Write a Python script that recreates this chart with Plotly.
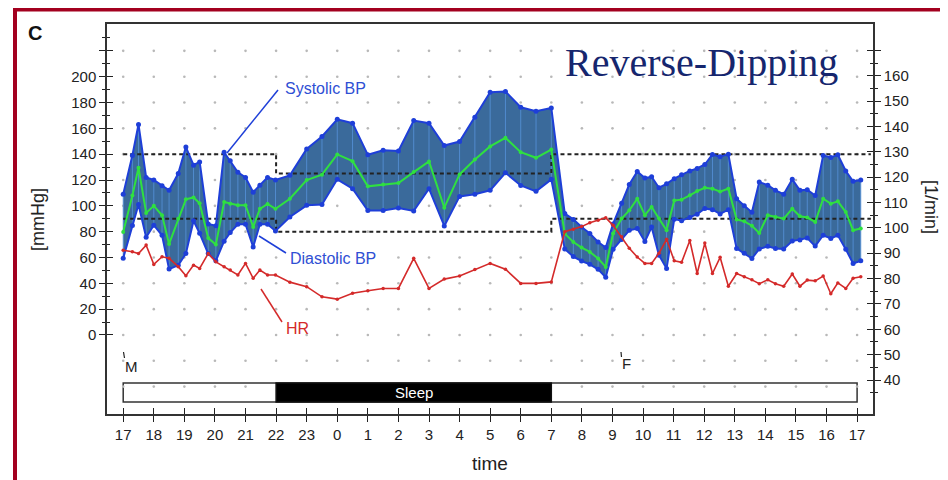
import plotly.graph_objects as go

# ---------------- data (hours after 17:00) ----------------
hours = [0, 0.3, 0.5, 0.75, 1.0, 1.27, 1.5, 1.8, 2.05, 2.3, 2.5, 2.78, 3.03, 3.3, 3.5, 3.75, 4.0,
         4.25, 4.47, 4.72, 4.98,
         5.45, 6.0, 6.5, 7.0, 7.5, 8.0, 8.5, 9.0, 9.5, 10.0, 10.5, 11.0, 11.5, 12.0, 12.5, 13.0,
         13.5, 14.0,
         14.44, 14.72, 14.99, 15.26, 15.53, 15.78, 16.02, 16.30, 16.55, 16.81, 17.06, 17.28, 17.52,
         17.77, 18.02, 18.26, 18.53, 18.77, 19.02, 19.27, 19.52, 19.79, 20.06, 20.31, 20.56, 20.80,
         21.08, 21.33, 21.60, 21.88, 22.13, 22.37, 22.63, 22.89, 23.14, 23.37, 23.63, 23.87, 24.12]

systolic = [109, 139, 163, 122, 120, 115.5, 112, 125, 145.5, 131.5, 134, 86, 84.5, 141.5, 135, 126,
            122, 110.5, 116, 122, 120,
            123.6, 144, 153.7, 167, 164, 139.5, 143, 142.5, 166, 164, 146.7, 149.8, 168.6, 188,
            188.6, 176.3, 173.2, 175.8,
            94, 89.5, 83.6, 78.5, 72, 67.7, 86, 102, 116.5, 126.6, 121.5, 122.5, 114, 117, 121, 124,
            127, 129, 132, 139.8, 138, 140, 105.5, 100, 95, 118.4, 116, 112, 109, 120.5, 112, 112.5,
            108, 139, 137.5, 139.5, 127, 119, 120]

diastolic = [59.5, 84.7, 101, 75.7, 85, 77.2, 51, 54, 63, 88.4, 78.7, 63, 57.5, 72.6, 79.3, 85.7,
             85.7, 68.2, 85.7, 85.7, 80.5,
             91.4, 100.4, 101, 120.5, 113.3, 96.3, 96.3, 98.3, 96, 113.3, 84.4, 107.3, 109, 112,
             125.6, 115.8, 111.2, 120.5,
             66.5, 60.7, 57.3, 54.7, 50.8, 44.7, 66.3, 74, 81, 82.4, 72.3, 83.6, 61.8, 51.5, 89.7,
             88.5, 90.9, 93.5, 98, 97, 93.7, 97, 67, 63.3, 59.2, 66.6, 68.7, 67, 66.5, 72.7, 73.6,
             75, 68.8, 77.2, 74.7, 77.2, 66.3, 55.4, 57.4]

mean_bp = [79.8, 108, 129.5, 94.5, 100, 92.7, 70.5, 90, 105, 106.5, 102, 75, 70, 103, 101.7, 100.5,
           100.5, 83.6, 97.7, 101.5, 97.7,
           105.5, 120, 124.1, 139.8, 134.6, 115.1, 116.6, 117.6, 126.1, 134.4, 98.6, 124.3, 135.9,
           146, 152.7, 141.5, 137.2, 143.6,
           78.5, 72, 67.7, 64.3, 59.2, 52.7, 78.5, 90.1, 96.5, 105.5, 92.7, 99.1, 90.1, 81.1, 104.2,
           104.8, 108.1, 111.4, 114, 113.3, 111, 113.3, 89.5, 88, 84.6, 79, 92.7, 91.4, 90.1, 97.8,
           91.9, 90.9, 87.5, 105.5, 101.7, 103.5, 95.2, 81.1, 82.4]

heart_rate = [91.2, 90.6, 89.9, 93.2, 85.6, 88.6, 88, 84.7, 81.1, 85.3, 84, 89.9, 86.6, 84.7, 83.4,
              81.4, 86, 80.1, 83.4, 81.4, 81.4,
              78.6, 76.8, 72.8, 71.9, 74.2, 75.2, 76.1, 76.1, 88, 76.1, 79.8, 81, 83.6, 86, 83.7,
              78.1, 78.1, 78.7,
              98.5, 99.5, 100.5, 102, 103, 104, 101, 96.5, 92, 88.5, 86, 86, 90, 95.5, 87, 86.4, 95,
              82, 94, 82, 88.4, 77, 82, 80.7, 79.5, 78, 79.5, 78, 77, 81.8, 77, 79.4, 79.1, 81, 74,
              78.3, 76.1, 80.1, 80.7]

tick_hours = list(range(0, 25))
tick_labels = ["17", "18", "19", "20", "21", "22", "23", "0", "1", "2", "3", "4", "5", "6", "7",
               "8", "9", "10", "11", "12", "13", "14", "15", "16", "17"]
mmhg_ticks = list(range(0, 221, 20))
mmhg_labels = [str(v) for v in range(0, 201, 20)] + [""]
mmhg_minor = list(range(10, 231, 20))
hr_ticks = list(range(40, 171, 10))
hr_labels = [str(v) for v in range(40, 161, 10)] + [""]
hr_minor = list(range(35, 166, 10))
grid_rows = list(range(-40, 221, 20))

limit_hours = [0, 5, 5, 14, 14, 24.45]
limit_upper = [140, 140, 125, 125, 140, 140]
limit_lower = [90, 90, 80, 80, 90, 90]
sleep_start, sleep_end = 5, 14

# ---------------- geometry / style ----------------
OFF = 8                      # page body margin of the browser
W, H = 948 - OFF, 480 - OFF  # figure size so the page fits the window
L, R, T, B = 107, 873, 24, 414   # plot frame in window pixels
X_RANGE = [-0.53, 24.52]
Y_RANGE = [-61.2, 240.8]
Y2_RANGE = [26.6, 180.4]


def pxx(x):
    return (x - L) / (R - L)


def pyy(y):
    return (B - y) / (B - T)


BLUE = "#1e3fd8"
FILL = "#3a6a9b"
VLINE = "rgba(85,145,215,0.85)"
GREEN = "#2fe040"
RED = "#d42a2a"
FONT = "Liberation Sans, Arial, sans-serif"

fig = go.Figure()

# grid dots
gx, gy = [], []
for yv in grid_rows:
    for xv in tick_hours:
        if yv == -40 and sleep_start <= xv <= sleep_end:
            continue
        gx.append(xv)
        gy.append(yv)
fig.add_trace(go.Scatter(x=gx, y=gy, mode="markers",
                         marker=dict(size=2.6, color="#b8b8b8"), hoverinfo="skip"))

# band fill
fig.add_trace(go.Scatter(x=hours, y=diastolic, mode="lines", line=dict(width=0, color=FILL),
                         hoverinfo="skip"))
fig.add_trace(go.Scatter(x=hours, y=systolic, mode="lines", line=dict(width=0, color=FILL),
                         fill="tonexty", fillcolor=FILL, hoverinfo="skip"))

# vertical measurement lines
vx, vy = [], []
for h, d, s in zip(hours, diastolic, systolic):
    vx += [h, h, None]
    vy += [d, s, None]
fig.add_trace(go.Scatter(x=vx, y=vy, mode="lines", line=dict(width=1, color=VLINE),
                         hoverinfo="skip"))

# threshold dashed lines
for lim in (limit_upper, limit_lower):
    fig.add_trace(go.Scatter(x=limit_hours, y=lim, mode="lines",
                             line=dict(width=2, color="#222", dash="4px,3px")))

# systolic / diastolic / mean
fig.add_trace(go.Scatter(x=hours, y=diastolic, mode="lines+markers",
                         line=dict(width=2, color=BLUE), marker=dict(size=5, color=BLUE)))
fig.add_trace(go.Scatter(x=hours, y=systolic, mode="lines+markers",
                         line=dict(width=2, color=BLUE), marker=dict(size=5, color=BLUE)))
fig.add_trace(go.Scatter(x=hours, y=mean_bp, mode="lines+markers",
                         line=dict(width=2, color=GREEN), marker=dict(size=4, color=GREEN)))

# heart rate on the right axis
fig.add_trace(go.Scatter(x=hours, y=heart_rate, yaxis="y2", mode="lines+markers",
                         line=dict(width=1.6, color=RED), marker=dict(size=3.5, color=RED)))

# invisible traces to activate inner-tick overlay axes
fig.add_trace(go.Scatter(x=[None], y=[None], xaxis="x2", yaxis="y", hoverinfo="skip"))
fig.add_trace(go.Scatter(x=[None], y=[None], xaxis="x", yaxis="y3", hoverinfo="skip"))
fig.add_trace(go.Scatter(x=[None], y=[None], xaxis="x", yaxis="y4", hoverinfo="skip"))

axis_line = dict(showline=True, linecolor="#333", linewidth=1.5, showgrid=False, zeroline=False)
tickstyle = dict(tickcolor="#222", tickwidth=1.4)

fig.update_layout(
    width=W, height=H,
    margin=dict(l=L - OFF, r=W - (R - OFF), t=T - OFF, b=H - (B - OFF)),
    paper_bgcolor="white", plot_bgcolor="white", showlegend=False,
    font=dict(family=FONT, size=15, color="#222"),
    xaxis=dict(range=X_RANGE, tickmode="array", tickvals=tick_hours, ticktext=tick_labels,
               ticks="outside", ticklen=6, mirror=True, **axis_line, **tickstyle),
    xaxis2=dict(range=X_RANGE, overlaying="x", anchor="y", side="bottom", tickmode="array",
                tickvals=tick_hours, ticks="inside", ticklen=6, showticklabels=False,
                showline=False, showgrid=False, zeroline=False, **tickstyle),
    yaxis=dict(range=Y_RANGE, tickmode="array", tickvals=mmhg_ticks, ticktext=mmhg_labels,
               ticks="outside", ticklen=6, **axis_line, **tickstyle,
               minor=dict(tickmode="array", tickvals=mmhg_minor, ticks="outside", ticklen=3,
                          tickcolor="#222", tickwidth=1.2, showgrid=False)),
    yaxis2=dict(range=Y2_RANGE, overlaying="y", side="right", anchor="x", tickmode="array",
                tickvals=hr_ticks, ticktext=hr_labels, ticks="outside", ticklen=6,
                **axis_line, **tickstyle,
                minor=dict(tickmode="array", tickvals=hr_minor, ticks="outside", ticklen=3,
                           tickcolor="#222", tickwidth=1.2, showgrid=False)),
    yaxis3=dict(range=Y_RANGE, overlaying="y", side="left", anchor="x", tickmode="array",
                tickvals=mmhg_ticks, ticks="inside", ticklen=6, showticklabels=False,
                showline=False, showgrid=False, zeroline=False, **tickstyle,
                minor=dict(tickmode="array", tickvals=mmhg_minor, ticks="inside", ticklen=3,
                           tickcolor="#222", tickwidth=1.2, showgrid=False)),
    yaxis4=dict(range=Y2_RANGE, overlaying="y", side="right", anchor="x", tickmode="array",
                tickvals=hr_ticks, ticks="inside", ticklen=6, showticklabels=False,
                showline=False, showgrid=False, zeroline=False, **tickstyle,
                minor=dict(tickmode="array", tickvals=hr_minor, ticks="inside", ticklen=3,
                           tickcolor="#222", tickwidth=1.2, showgrid=False)),
)

shapes = [
    # outer dark-red frame
    dict(type="rect", xref="paper", yref="paper", x0=pxx(15), x1=pxx(975), y0=pyy(9.5),
         y1=pyy(495), line=dict(color="#a3001f", width=4), fillcolor="rgba(0,0,0,0)",
         layer="above"),
    # sleep bar
    dict(type="rect", xref="x", yref="paper", x0=tick_hours[0], x1=tick_hours[-1], y0=pyy(402),
         y1=pyy(383), fillcolor="white", line=dict(color="#333", width=1.5), layer="below"),
    dict(type="rect", xref="x", yref="paper", x0=sleep_start, x1=sleep_end, y0=pyy(402),
         y1=pyy(383), fillcolor="black", line=dict(color="#111", width=1.5), layer="below"),
    # leader lines
    dict(type="line", xref="paper", yref="paper", x0=pxx(278), y0=pyy(90), x1=pxx(227),
         y1=pyy(153), line=dict(color=BLUE, width=1.5)),
    dict(type="line", xref="paper", yref="paper", x0=pxx(259), y0=pyy(236), x1=pxx(286),
         y1=pyy(253), line=dict(color=BLUE, width=1.5)),
    dict(type="line", xref="paper", yref="paper", x0=pxx(261), y0=pyy(289), x1=pxx(282),
         y1=pyy(322), line=dict(color=RED, width=1.5)),
    # event ticks
    dict(type="line", xref="paper", yref="paper", x0=pxx(123.5), y0=pyy(352), x1=pxx(124.5),
         y1=pyy(358), line=dict(color="#222", width=1.2)),
    dict(type="line", xref="paper", yref="paper", x0=pxx(621), y0=pyy(352), x1=pxx(621.5),
         y1=pyy(357), line=dict(color="#222", width=1.2)),
]
fig.update_layout(shapes=shapes)


def ann(text, x, y, size=15, color="#222", xanchor="center", angle=0, family=FONT, xref="paper"):
    return dict(text=text, x=x, y=y, xref=xref, yref="paper", showarrow=False,
                xanchor=xanchor, yanchor="middle", textangle=angle,
                font=dict(size=size, color=color, family=family))


annotations = [
    ann("<b>C</b>", pxx(35), pyy(33), size=20, color="#111"),
    ann("Reverse-Dipping", pxx(701), pyy(63), size=40, color="#16266e",
        family="Liberation Serif, Times New Roman, serif"),
    ann("Systolic BP", pxx(283), pyy(89), size=16, color="#2f4fd4", xanchor="left"),
    ann("Diastolic BP", pxx(288), pyy(258), size=16, color="#2f4fd4", xanchor="left"),
    ann("HR", pxx(284), pyy(328), size=16, color=RED, xanchor="left"),
    ann("M", pxx(123), pyy(366), size=15, xanchor="left"),
    ann("F", pxx(620), pyy(363), size=15, xanchor="left"),
    ann("Sleep", (sleep_start + sleep_end) / 2, pyy(392.5), size=15, color="white", xref="x"),
    ann("[mmHg]", pxx(38), pyy(220), size=18, angle=-90),
    ann("[1/min]", pxx(931), pyy(207), size=18, angle=90),
    ann("time", pxx(490), pyy(463), size=19),
]
fig.update_layout(annotations=annotations)

fig.write_html("out.html")
